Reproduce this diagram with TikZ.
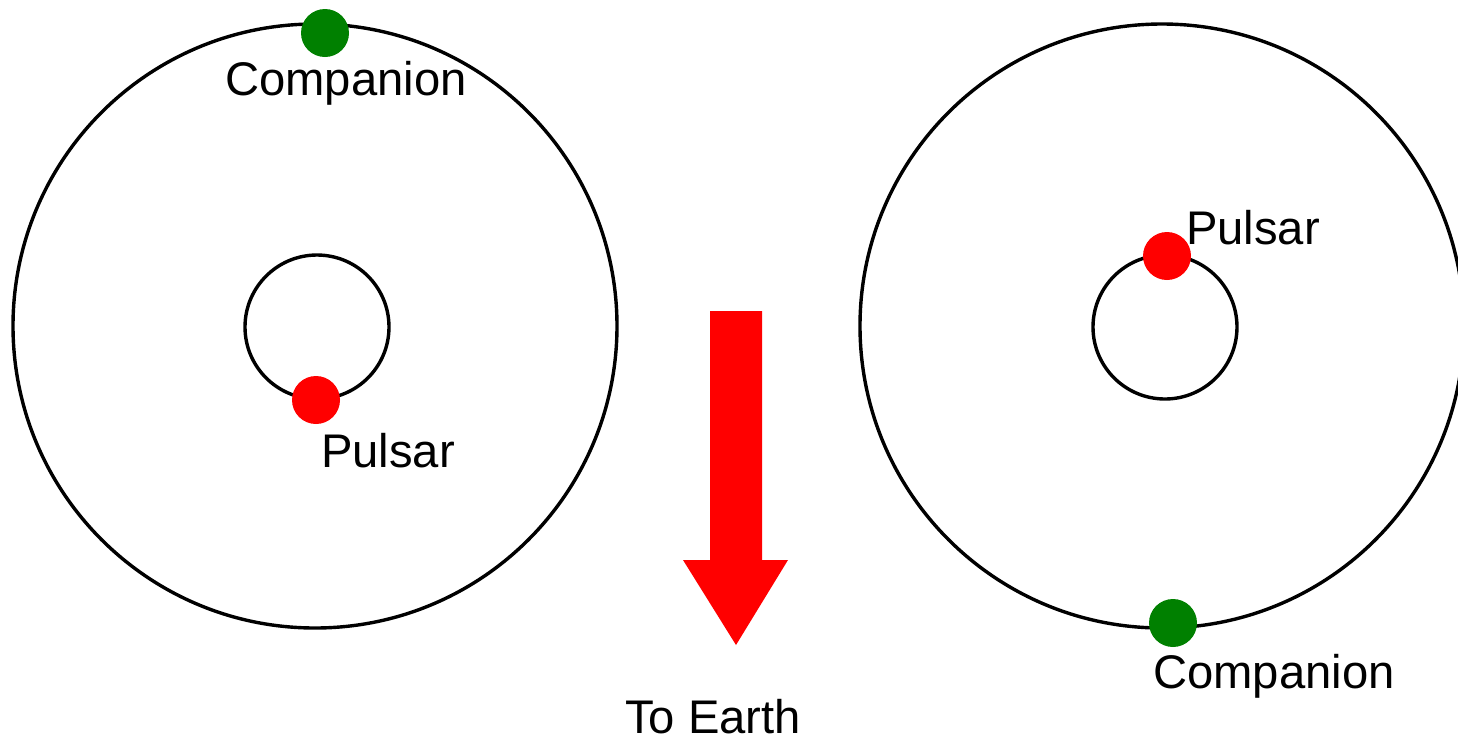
\documentclass[tikz,border=0pt]{standalone}
\usepackage{fontspec}
\setmainfont{Liberation Sans}
\definecolor{compgreen}{RGB}{0,128,0}
\definecolor{pulsred}{RGB}{255,0,0}
\begin{document}
\begin{tikzpicture}[x=0.5pt, y=-0.5pt,
  orbit/.style={draw=black, line width=1.7pt},
  star/.style={circle, inner sep=0pt, minimum size=24pt},
  lbl/.style={font=\fontsize{23.6}{28}\selectfont, inner sep=0pt}]

\useasboundingbox (0,0) rectangle (1458,741);

\def\Rbig{302}
\def\Rsmall{72}

% left system
\draw[orbit] (315,326) circle (\Rbig);
\draw[orbit] (317,327) circle (\Rsmall);
\node[star, fill=compgreen] (compL) at (325,33) {};
\node[star, fill=pulsred] (pulsL) at (316,400) {};
\node[lbl] (compLtxt) at (346,83) {Companion};
\node[lbl] (pulsLtxt) at (388,451) {Pulsar};

% right system
\draw[orbit] (1162,326) circle (\Rbig);
\draw[orbit] (1165,327) circle (\Rsmall);
\node[star, fill=pulsred] (pulsR) at (1167,256) {};
\node[star, fill=compgreen] (compR) at (1173,623) {};
\node[lbl] (pulsRtxt) at (1253,228) {Pulsar};
\node[lbl] (compRtxt) at (1274,676) {Companion};

% direction to Earth
\fill[pulsred] (710,311) -- (762,311) -- (762,560) -- (788,560)
  -- (736,645) -- (683,560) -- (710,560) -- cycle;
\node[lbl] (earth) at (713,717) {To Earth};

\end{tikzpicture}
\end{document}
